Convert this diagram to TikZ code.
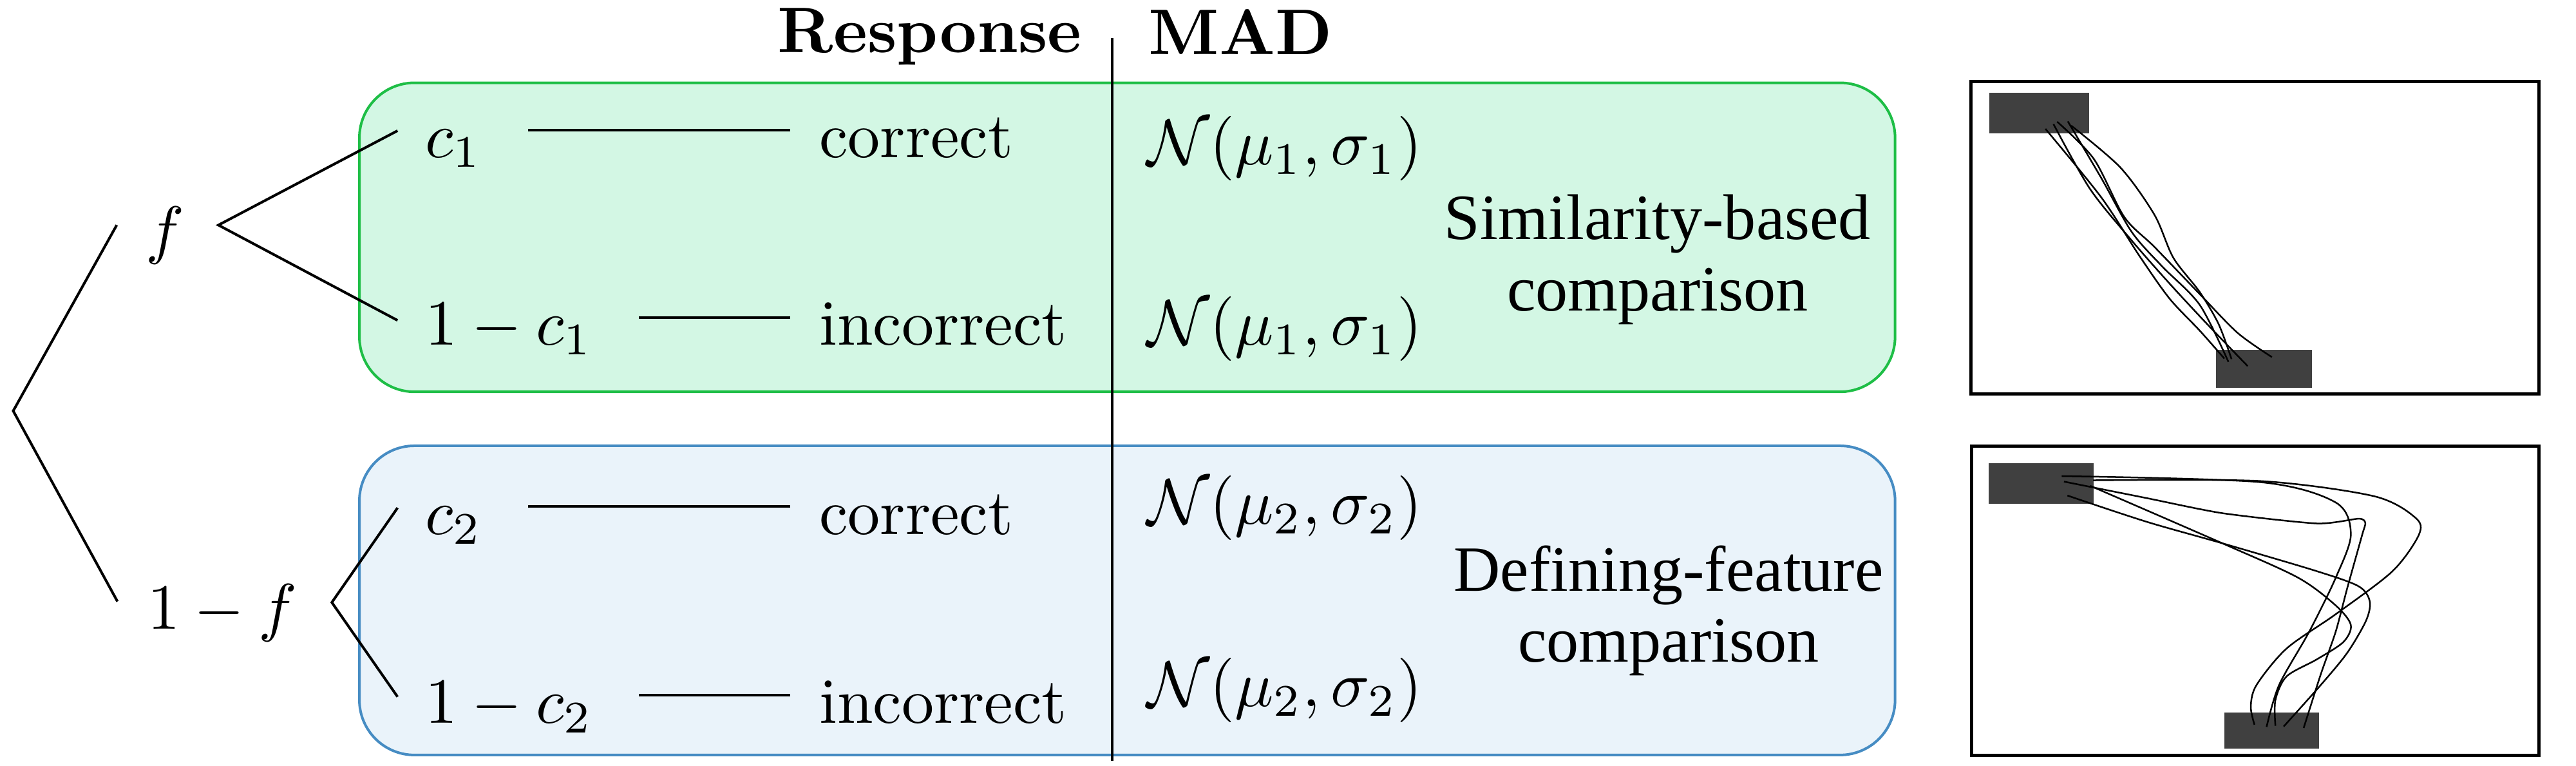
\documentclass[tikz,border=0pt]{standalone}
\usepackage{amsmath}
\usepackage{amssymb}
\usepackage{fontspec}
\newfontfamily\capfont{Liberation Serif}
\usepackage{tikz}
\usetikzlibrary{calc}
\usetikzlibrary{positioning}
\definecolor{simfill}{RGB}{211,247,228}
\definecolor{simline}{RGB}{30,190,70}
\definecolor{deffill}{RGB}{234,243,250}
\definecolor{defline}{RGB}{70,140,195}
\definecolor{blockgray}{RGB}{64,64,64}

\begin{document}
\begin{tikzpicture}[scale=1, transform shape,
    lbl/.style={anchor=base west},
    link/.style={shorten <=3.6pt, shorten >=1pt},
    comp/.style={align=center, font=\capfont\fontsize{10}{11}\selectfont},
    simbox/.style={draw=simline, fill=simfill, rounded corners=0.3cm},
    defbox/.style={draw=defline, fill=deffill, rounded corners=0.3cm},
    panel/.style={draw, line width=0.5pt},
    wire/.style={line width=0.25pt}]
    \useasboundingbox (0,0) rectangle (14.035,-4.171);
    \draw[simbox] (1.958,-0.451) rectangle (10.325,-2.134);
    \draw[defbox] (1.958,-2.428) rectangle (10.325,-4.112);
    \coordinate (divtop) at (6.060,-0.206);
    \coordinate (divbot) at (6.060,-4.144);
    \draw (divtop) -- (divbot);
    \node [anchor=base] (resp) at (5.066,-0.286) {\textbf{Response}};
    \node [anchor=base] (mad) at (6.758,-0.295) {\textbf{MAD}};
    \node [lbl] (f) at (0.671,-1.370) {$f$};
    \node [lbl] (nf) at (0.680,-3.428) {$1-f$};
    \node [lbl] (c1) at (2.192,-0.859) {$c_1$};
    \node [lbl] (c1n) at (2.192,-1.880) {$1-c_1$};
    \node [lbl] (c2) at (2.192,-2.909) {$c_2$};
    \node [lbl] (c2n) at (2.192,-3.938) {$1-c_2$};
    \node [lbl] (ok1) at (4.340,-0.859) {correct};
    \node [lbl] (no1) at (4.340,-1.880) {incorrect};
    \node [lbl] (ok2) at (4.340,-2.909) {correct};
    \node [lbl] (no2) at (4.340,-3.938) {incorrect};
    \node [lbl] (n1) at (6.126,-0.895) {$\mathcal{N}(\mu_1,\sigma_1)$};
    \node [lbl] (n1n) at (6.126,-1.880) {$\mathcal{N}(\mu_1,\sigma_1)$};
    \node [lbl] (n2) at (6.126,-2.855) {$\mathcal{N}(\mu_2,\sigma_2)$};
    \node [lbl] (n2n) at (6.126,-3.849) {$\mathcal{N}(\mu_2,\sigma_2)$};
    \node [comp] (sim) at (9.031,-1.414) {Similarity-based\\comparison};
    \node [comp] (def) at (9.091,-3.325) {Defining-feature\\comparison};
    \coordinate (root) at (0.072,-2.238);
    \coordinate (fup) at (0.636,-1.226);
    \coordinate (fdn) at (0.640,-3.276);
    \draw (fup) -- (root) -- (fdn);
    \coordinate (fs) at (1.190,-1.226);
    \coordinate (fs1) at (2.166,-0.712);
    \coordinate (fs2) at (2.166,-1.745);
    \draw (fs1) -- (fs) -- (fs2);
    \coordinate (nfs) at (1.808,-3.281);
    \coordinate (nfs1) at (2.166,-2.766);
    \coordinate (nfs2) at (2.166,-3.795);
    \draw (nfs1) -- (nfs) -- (nfs2);
    \draw[link] ([yshift=4.3pt]c1.base east) -- ([yshift=4.3pt]ok1.base west);
    \draw[link] ([yshift=4.3pt]c1n.base east) -- ([yshift=4.3pt]no1.base west);
    \draw[link] ([yshift=4.3pt]c2.base east) -- ([yshift=4.3pt]ok2.base west);
    \draw[link] ([yshift=4.3pt]c2n.base east) -- ([yshift=4.3pt]no2.base west);
    \draw[panel] (10.739,-0.445) rectangle (13.832,-2.146);
    \fill[blockgray] (10.839,-0.505) rectangle (11.382,-0.726);
    \fill[blockgray] (12.074,-1.905) rectangle (12.596,-2.112);
    \draw[wire] plot[smooth] coordinates {(11.144,-0.702) (11.449,-1.076) (11.655,-1.392) (11.820,-1.626) (11.985,-1.801) (12.119,-1.953)};
    \draw[wire] plot[smooth] coordinates {(11.188,-0.676) (11.387,-1.029) (11.614,-1.310) (11.820,-1.544) (12.026,-1.766) (12.246,-1.994)};
    \draw[wire] plot[smooth] coordinates {(11.208,-0.663) (11.408,-0.866) (11.573,-1.181) (11.738,-1.345) (11.985,-1.602) (12.191,-1.813) (12.378,-1.945)};
    \draw[wire] plot[smooth] coordinates {(11.266,-0.661) (11.449,-0.971) (11.614,-1.263) (11.779,-1.450) (11.985,-1.661) (12.141,-1.971)};
    \draw[wire] plot[smooth] coordinates {(11.284,-0.684) (11.552,-0.912) (11.738,-1.170) (11.841,-1.404) (11.985,-1.591) (12.088,-1.766) (12.158,-1.956)};
    \draw[panel] (10.743,-2.431) rectangle (13.832,-4.115);
    \fill[blockgray] (10.835,-2.523) rectangle (11.407,-2.743);
    \fill[blockgray] (12.118,-3.881) rectangle (12.635,-4.076);
    \draw[wire] plot[smooth] coordinates {(11.233,-2.593) (12.314,-2.626) (12.726,-2.737) (12.808,-2.912) (12.726,-3.146) (12.582,-3.439) (12.417,-3.731) (12.349,-3.959)};
    \draw[wire] plot[smooth] coordinates {(11.404,-2.616) (12.314,-2.620) (12.932,-2.702) (13.159,-2.819) (13.179,-2.912) (13.035,-3.111) (12.726,-3.345) (12.458,-3.532) (12.294,-3.731) (12.263,-3.848) (12.283,-3.947)};
    \draw[wire] plot[smooth, tension=0.4] coordinates {(11.245,-2.623) (11.696,-2.713) (12.108,-2.795) (12.623,-2.851) (12.850,-2.825) (12.887,-2.848) (12.870,-2.912) (12.788,-3.205) (12.726,-3.439) (12.644,-3.673) (12.551,-3.965)};
    \draw[wire] plot[smooth] coordinates {(11.388,-2.646) (12.108,-2.959) (12.520,-3.146) (12.726,-3.298) (12.808,-3.404) (12.767,-3.497) (12.623,-3.591) (12.458,-3.684) (12.397,-3.813) (12.397,-3.953)};
    \draw[wire] plot[smooth] coordinates {(11.264,-2.699) (11.696,-2.842) (12.108,-2.959) (12.623,-3.111) (12.850,-3.193) (12.911,-3.275) (12.891,-3.380) (12.788,-3.556) (12.644,-3.731) (12.442,-3.957)};
\end{tikzpicture}
\end{document}
